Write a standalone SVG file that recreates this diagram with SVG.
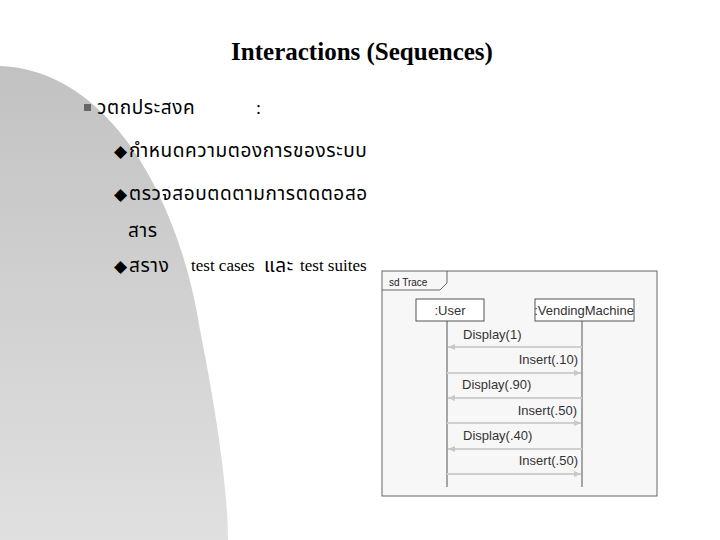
<svg xmlns="http://www.w3.org/2000/svg" width="720" height="540" viewBox="0 0 720 540">
<defs>
<linearGradient id="g" x1="0" y1="0" x2="0" y2="1"><stop offset="0" stop-color="#c2c2c2"/><stop offset="1" stop-color="#e0e0e0"/></linearGradient>
<marker id="ah" markerWidth="8" markerHeight="8" refX="7" refY="4" orient="auto" markerUnits="userSpaceOnUse"><path d="M0,1 L7,4 L0,7 Z" fill="#c8c8c8"/></marker>
<style>
.th{font-family:"Noto Sans Thai","Noto Sans","DejaVu Sans",sans-serif;font-size:19px;letter-spacing:0.6px;fill:#000}
.ser{font-family:"Liberation Serif",serif;fill:#000}
.s{font-family:"Liberation Sans",Arial,sans-serif;font-size:13px;fill:#333}
.box{fill:#fff;stroke:#555;stroke-width:1}
.ll{stroke:#555;stroke-width:1}
.msg{stroke:#cfcfcf;stroke-width:2;marker-end:url(#ah)}
</style>
</defs>
<rect width="720" height="540" fill="#fff"/>
<path d="M0,66 C110,70 180,200 200,330 C220,430 228,500 228,540 L0,540 Z" fill="url(#g)"/>
<text x="362" y="60" text-anchor="middle" class="ser" font-size="25" font-weight="bold">Interactions (Sequences)</text>
<rect x="84" y="104" width="7" height="7" fill="#666"/>
<text x="97" y="114" class="th">วตถประสงค</text>
<text x="256" y="114" class="ser" font-size="18">:</text>
<g class="ser" font-size="17">
<text x="114" y="157">◆</text><text x="114" y="200">◆</text><text x="114" y="272">◆</text>
</g>
<text x="129" y="157" class="th">กำหนดความตองการของระบบ</text>
<text x="129" y="200" class="th">ตรวจสอบตดตามการตดตอสอ</text>
<text x="128" y="237" class="th">สาร</text>
<text x="129" y="272" class="th">สราง</text>
<text x="191" y="271" class="ser" font-size="17">test cases</text>
<text x="264" y="272" class="th">และ</text>
<text x="300" y="271" class="ser" font-size="17">test suites</text>
<g id="frame">
<rect x="382" y="271" width="275" height="225" fill="#f7f7f7" stroke="#666"/>
<path d="M382,290 L440,290 L447,283 L447,271" fill="none" stroke="#666"/>
<text x="389" y="286" font-family="Liberation Sans,Arial,sans-serif" font-size="10" fill="#222">sd Trace</text>
</g>
<g id="user"><rect x="416" y="299" width="68" height="22" class="box"/><text x="450" y="315" text-anchor="middle" class="s">:User</text><line x1="447" y1="321" x2="447" y2="487" class="ll"/></g>
<g id="vm"><rect x="535" y="299" width="99" height="22" class="box"/><text x="584" y="315" text-anchor="middle" class="s" font-size="12">:VendingMachine</text><line x1="582" y1="321" x2="582" y2="487" class="ll"/></g>
<g id="connectors">
<line x1="582" y1="347" x2="448" y2="347" class="msg"/>
<line x1="447" y1="373" x2="581" y2="373" class="msg"/>
<line x1="582" y1="398" x2="448" y2="398" class="msg"/>
<line x1="447" y1="423" x2="581" y2="423" class="msg"/>
<line x1="582" y1="449" x2="448" y2="449" class="msg"/>
<line x1="447" y1="474" x2="581" y2="474" class="msg"/>
</g>
<g class="s">
<text x="463" y="339">Display(1)</text>
<text x="578" y="364" text-anchor="end">Insert(.10)</text>
<text x="462" y="389">Display(.90)</text>
<text x="577" y="415" text-anchor="end">Insert(.50)</text>
<text x="463" y="440">Display(.40)</text>
<text x="578" y="465" text-anchor="end">Insert(.50)</text>
</g>
</svg>
